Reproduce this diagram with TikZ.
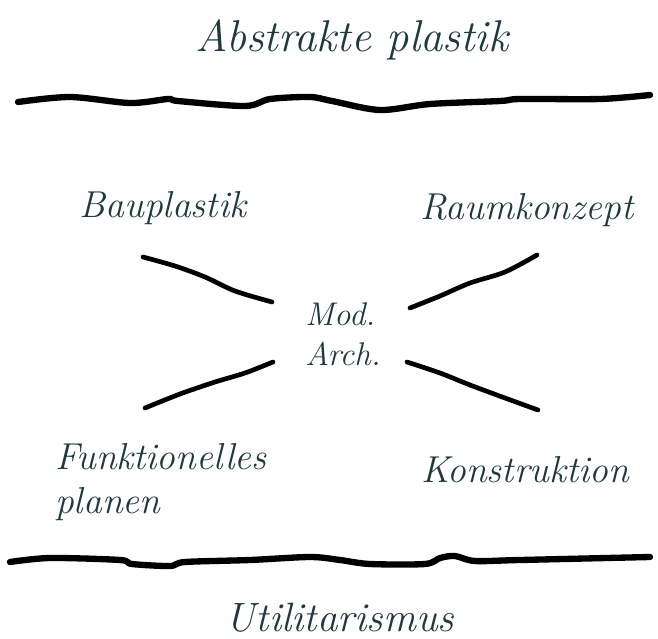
\documentclass[tikz,border=0pt]{standalone}
\usetikzlibrary{positioning}
\definecolor{ink}{HTML}{1E3A3E}

\begin{document}
\begin{tikzpicture}[
  x=0.03cm, y=-0.03cm,
  label/.style={
    text=ink,
    font=\fontsize{32}{38}\selectfont\itshape,
    inner sep=0pt
  },
  bar/.style={line width=5.4pt, line cap=round, line join=round},
  spoke/.style={line width=4pt, line cap=round, line join=round}
]
\useasboundingbox (0,0) rectangle (658,639);

% labels
\node[label, font=\fontsize{38}{44}\selectfont\itshape] (abstract) at (352,40) {Abstrakte plastik};
\node[label] (bau) at (163,208) {Bauplastik};
\node[label] (raum) at (527,210) {Raumkonzept};
\node[label, align=left, font=\fontsize{28}{34}\selectfont\itshape] (mod) at (343,334) {Mod.\\Arch.};
\node[label, align=left, anchor=west] (funk) at (55,482) {Funktionelles\\planen};
\node[label] (konst) at (525,470) {Konstruktion};
\node[label, font=\fontsize{35}{40}\selectfont\itshape] (util) at (340,618) {Utilitarismus};

% the two bars
\draw[bar] plot[smooth, tension=0.5] coordinates {(18,102) (70,97) (130,103) (168,99) (178,101) (245,106) (270,99) (310,97) (332,101) (380,110) (430,104) (500,101) (520,99) (600,99) (650,95)};
\draw[bar] plot[smooth, tension=0.5] coordinates {(10,562) (50,558) (120,560) (132,564) (170,566) (185,562) (250,560) (310,557) (340,560) (370,564) (425,564) (440,558) (455,556) (475,561) (520,560) (650,557)};

% the four spokes round the middle
\draw[spoke] plot[smooth, tension=0.5] coordinates {(143,257) (175,266) (205,277) (235,291) (272,302)};
\draw[spoke] plot[smooth, tension=0.5] coordinates {(410,308) (440,296) (470,283) (505,272) (537,255)};
\draw[spoke] plot[smooth, tension=0.5] coordinates {(145,408) (180,394) (215,382) (245,373) (273,362)};
\draw[spoke] plot[smooth, tension=0.5] coordinates {(407,362) (440,373) (470,385) (505,398) (538,410)};
\end{tikzpicture}
\end{document}
